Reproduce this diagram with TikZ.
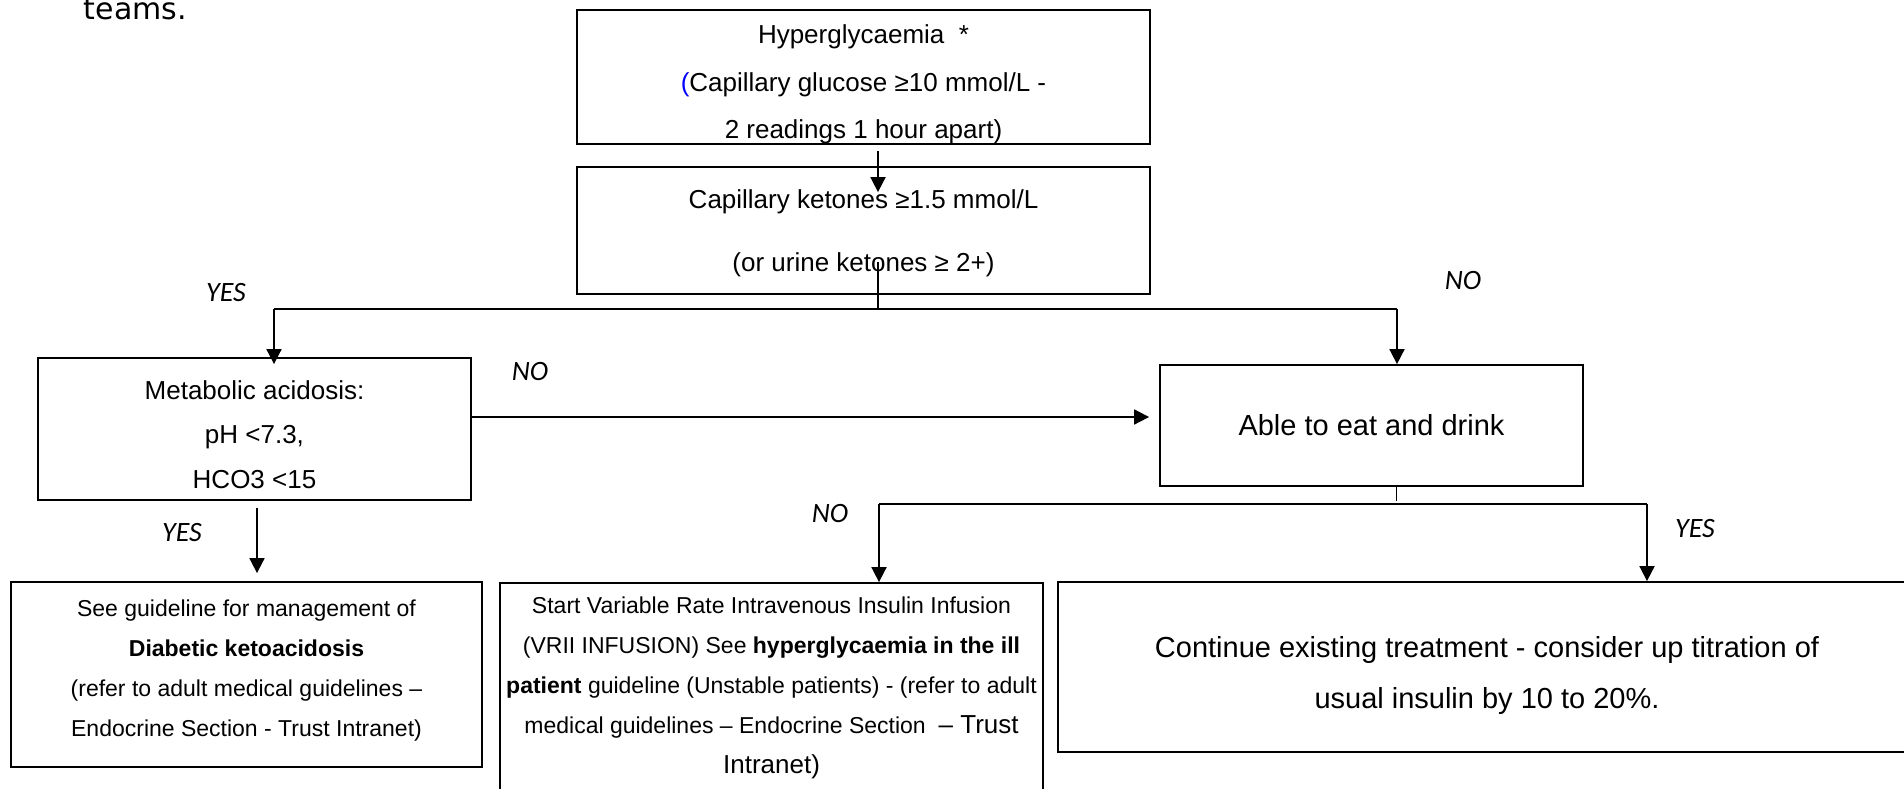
\documentclass[tikz,border=0pt]{standalone}
\usepackage{fontspec}
\setmainfont{Liberation Sans}
\newfontfamily\calib{Carlito}
\newfontfamily\dejavu{DejaVu Sans}
\usetikzlibrary{arrows.meta}
\begin{document}
\begin{tikzpicture}[x=1pt,y=-1pt, line width=1.8pt,
  box/.style={draw, line width=1.8pt, rectangle, align=center, inner sep=0pt},
  arr/.style={-{Triangle[length=15pt,width=15pt]}},
  lbl/.style={font=\calib\itshape\fontsize{28}{28}\selectfont, inner sep=0pt}]
\useasboundingbox (0,0) rectangle (1904,789);
\clip (0,0) rectangle (1904,789);

\node[anchor=base west, inner sep=0pt, font=\dejavu\fontsize{30}{30}\selectfont] (teams) at (83,20) {teams.};

\node[box, minimum width=573pt, minimum height=134pt, font=\fontsize{26}{47.5}\selectfont] (b1) at (863.5,77)
  {\rule{0pt}{34pt}Hyperglycaemia\ \ *\\\textcolor{blue}{(}Capillary glucose ≥10 mmol/L -\\2 readings 1 hour apart)};
\node[box, minimum width=573pt, minimum height=127pt, font=\fontsize{26}{63}\selectfont] (b2) at (863.5,230.5)
  {\rule{0pt}{24pt}Capillary ketones ≥1.5 mmol/L\\(or urine ketones ≥ 2+)};
\node[box, minimum width=433pt, minimum height=142pt, font=\fontsize{26}{44.5}\selectfont] (b3) at (254.5,429)
  {\rule{0pt}{30pt}Metabolic acidosis:\\pH <7.3,\\HCO3 <15};
\node[box, minimum width=423pt, minimum height=121pt, font=\fontsize{29}{34}\selectfont] (b4) at (1371.5,425.5)
  {Able to eat and drink};
\node[box, minimum width=471pt, minimum height=185pt, font=\fontsize{23}{40}\selectfont] (b5) at (246.5,674.5)
  {See guideline for management of\\\textbf{Diabetic ketoacidosis}\\(refer to adult medical guidelines –\\Endocrine Section - Trust Intranet)\rule[-12pt]{0pt}{12pt}};
\node[box, minimum width=543pt, minimum height=209pt, font=\fontsize{23}{40}\selectfont] (b6) at (771.5,687.5)
  {Start Variable Rate Intravenous Insulin Infusion\\(VRII INFUSION) See \textbf{hyperglycaemia in the ill}\\\textbf{patient} guideline (Unstable patients) - (refer to adult\\medical guidelines – Endocrine Section\ \ {\fontsize{26}{40}\selectfont – Trust}\\{\fontsize{26}{40}\selectfont Intranet)}};
\node[box, minimum width=858pt, minimum height=170pt, font=\fontsize{29}{51}\selectfont] (b7) at (1487,667)
  {\rule{0pt}{38pt}Continue existing treatment - consider up titration of\\usual insulin by 10 to 20\%.};

\coordinate (ax) at (878,0);
\coordinate (k0) at (878,262);
\coordinate (j0) at (878,309);
\coordinate (jl) at (274,309);
\coordinate (jr) at (1397,309);
\coordinate (m0) at (1396,504);
\coordinate (ml) at (879,504);
\coordinate (mr) at (1647,504);
\coordinate (d0) at (257,508);

\draw[arr, shorten <=6pt, shorten >=-26pt] (b1.south -| ax) -- (b2.north -| ax);
\draw (k0) -- (j0);
\draw (jl) -- (jr);
\draw[arr, shorten >=-7pt] (jl) -- (jl |- b3.north);
\draw[arr] (jr) -- (jr |- b4.north);
\draw[arr, shorten >=10pt] ([yshift=12pt]b3.east) -- ([yshift=12pt]b3.east -| b4.west);
\draw[line width=1pt] (b4.south -| m0) -- ([yshift=3pt]m0);
\draw (ml) -- (mr);
\draw[arr] (ml) -- (ml |- b6.north);
\draw[arr] (mr) -- (mr |- b7.north);
\draw[arr, shorten >=8pt] (d0) -- (d0 |- b5.north);

\node[lbl] (yes1) at (226,293) {YES};
\node[lbl] (no1) at (1463,281) {NO};
\node[lbl] (no2) at (530,372) {NO};
\node[lbl] (yes2) at (182,533) {YES};
\node[lbl] (no3) at (830,514) {NO};
\node[lbl] (yes3) at (1695,529) {YES};
\end{tikzpicture}
\end{document}
